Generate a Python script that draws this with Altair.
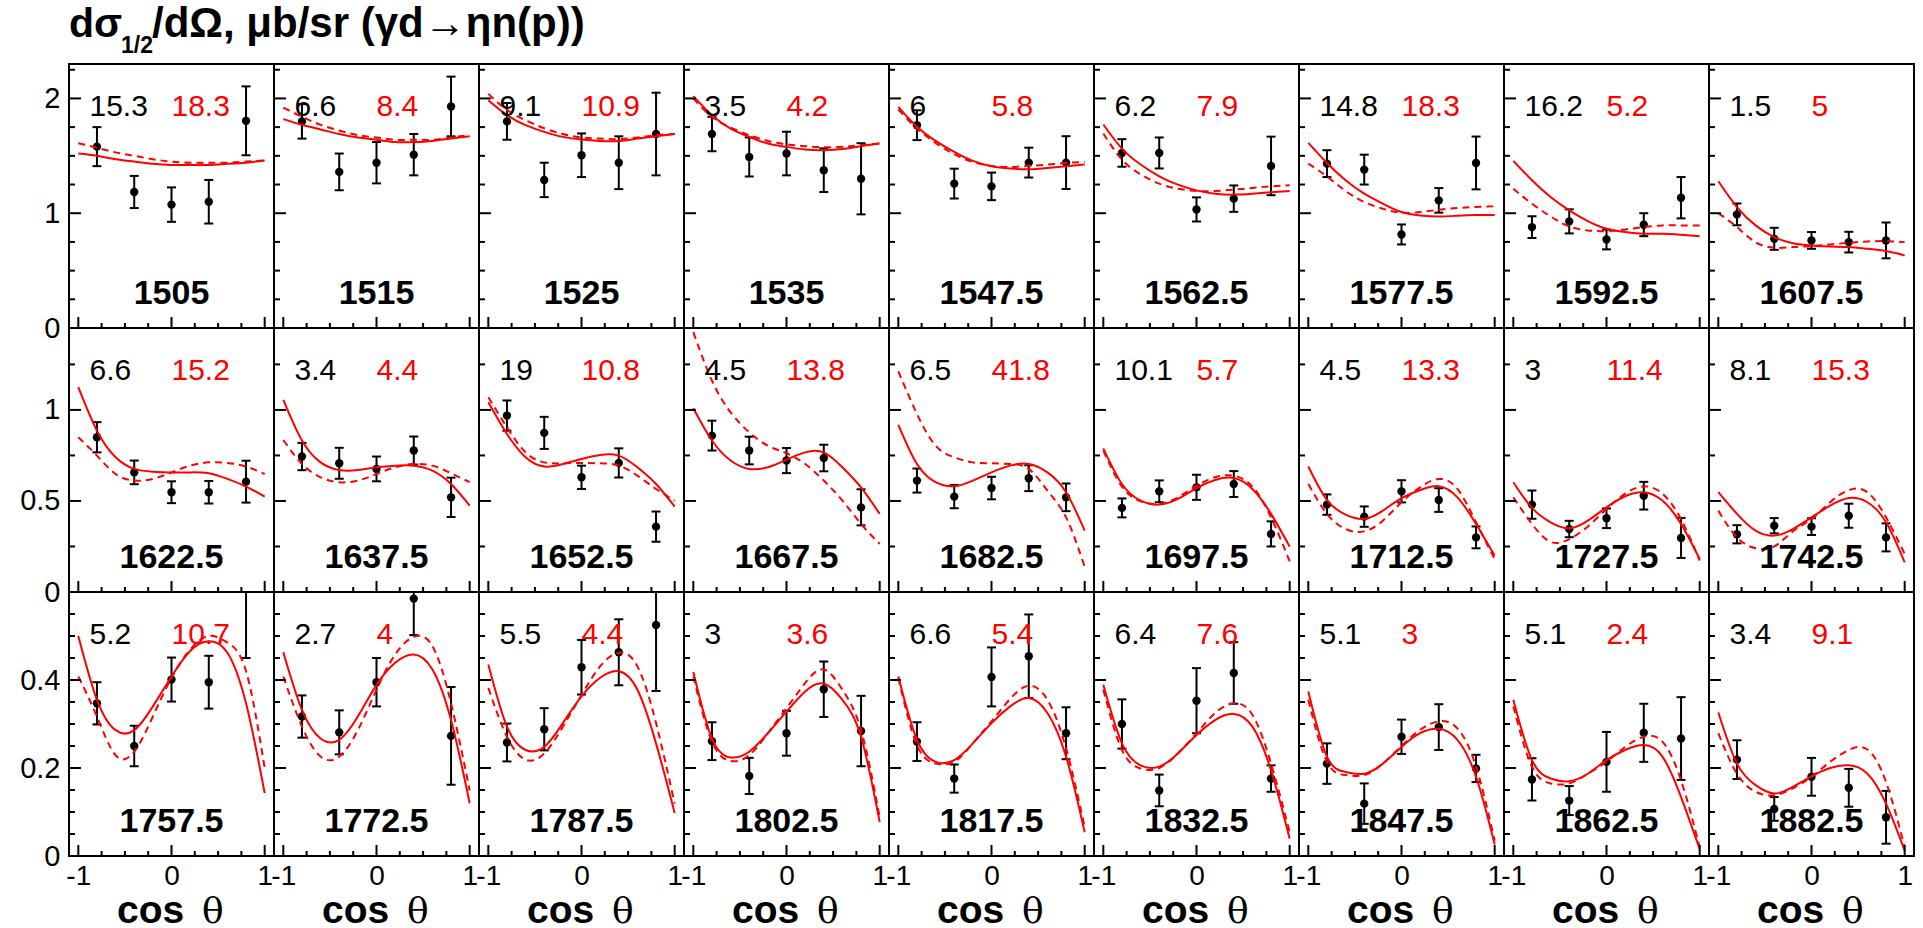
import altair as alt
import pandas as pd

FONT = "Liberation Sans"
SERIF = "DejaVu Serif"
RED = "#ff0000"

ENERGIES = ["1505", "1515", "1525", "1535", "1547.5", "1562.5", "1577.5", "1592.5", "1607.5",
            "1622.5", "1637.5", "1652.5", "1667.5", "1682.5", "1697.5", "1712.5", "1727.5", "1742.5",
            "1757.5", "1772.5", "1787.5", "1802.5", "1817.5", "1832.5", "1847.5", "1862.5", "1882.5"]
CHI_BLACK = ["15.3", "6.6", "9.1", "3.5", "6", "6.2", "14.8", "16.2", "1.5",
             "6.6", "3.4", "19", "4.5", "6.5", "10.1", "4.5", "3", "8.1",
             "5.2", "2.7", "5.5", "3", "6.6", "6.4", "5.1", "5.1", "3.4"]
CHI_RED = ["18.3", "8.4", "10.9", "4.2", "5.8", "7.9", "18.3", "5.2", "5",
           "15.2", "4.4", "10.8", "13.8", "41.8", "5.7", "13.3", "11.4", "15.3",
           "10.7", "4", "4.4", "3.6", "5.4", "7.6", "3", "2.4", "9.1"]

COS_DATA = [-0.8, -0.4, 0.0, 0.4, 0.8]
XS_VAL = [
    [1.58, 1.185, 1.075, 1.10, 1.805],
    [1.80, 1.36, 1.44, 1.51, 1.93],
    [1.80, 1.29, 1.505, 1.44, 1.69],
    [1.69, 1.49, 1.52, 1.375, 1.30],
    [1.767, 1.258, 1.234, 1.441, 1.441],
    [1.525, 1.525, 1.033, 1.127, 1.412],
    [1.432, 1.38, 0.815, 1.112, 1.438],
    [0.879, 0.929, 0.771, 0.90, 1.135],
    [0.99, 0.777, 0.763, 0.748, 0.763],
    [0.85, 0.657, 0.548, 0.548, 0.606],
    [0.744, 0.707, 0.676, 0.777, 0.52],
    [0.969, 0.874, 0.63, 0.709, 0.359],
    [0.859, 0.777, 0.722, 0.736, 0.465],
    [0.612, 0.524, 0.571, 0.625, 0.52],
    [0.462, 0.553, 0.575, 0.593, 0.319],
    [0.48, 0.414, 0.553, 0.505, 0.30],
    [0.48, 0.346, 0.405, 0.529, 0.297],
    [0.317, 0.364, 0.359, 0.419, 0.30],
    [0.347, 0.25, 0.401, 0.395, 0.65],
    [0.317, 0.281, 0.395, 0.585, 0.273],
    [0.258, 0.288, 0.429, 0.463, 0.525],
    [0.261, 0.182, 0.279, 0.379, 0.284],
    [0.26, 0.176, 0.407, 0.454, 0.279],
    [0.30, 0.149, 0.353, 0.416, 0.176],
    [0.21, 0.119, 0.271, 0.293, 0.199],
    [0.174, 0.126, 0.214, 0.28, 0.267],
    [0.219, 0.107, 0.18, 0.155, 0.088],
]
XS_ERR = [
    [0.17, 0.14, 0.15, 0.19, 0.30],
    [0.15, 0.16, 0.18, 0.18, 0.26],
    [0.16, 0.15, 0.19, 0.23, 0.36],
    [0.15, 0.17, 0.19, 0.19, 0.31],
    [0.13, 0.13, 0.12, 0.13, 0.23],
    [0.12, 0.135, 0.105, 0.115, 0.255],
    [0.117, 0.13, 0.087, 0.107, 0.23],
    [0.095, 0.105, 0.086, 0.10, 0.18],
    [0.095, 0.096, 0.073, 0.09, 0.156],
    [0.083, 0.065, 0.06, 0.062, 0.115],
    [0.075, 0.085, 0.068, 0.077, 0.108],
    [0.083, 0.088, 0.064, 0.08, 0.083],
    [0.082, 0.076, 0.069, 0.073, 0.099],
    [0.066, 0.064, 0.062, 0.071, 0.076],
    [0.052, 0.06, 0.069, 0.071, 0.069],
    [0.056, 0.056, 0.061, 0.065, 0.06],
    [0.078, 0.045, 0.054, 0.076, 0.11],
    [0.05, 0.042, 0.046, 0.066, 0.077],
    [0.048, 0.046, 0.05, 0.06, 0.2],
    [0.048, 0.05, 0.055, 0.083, 0.111],
    [0.043, 0.048, 0.062, 0.075, 0.15],
    [0.043, 0.041, 0.051, 0.063, 0.08],
    [0.044, 0.032, 0.067, 0.095, 0.059],
    [0.056, 0.036, 0.074, 0.07, 0.03],
    [0.046, 0.046, 0.039, 0.052, 0.031],
    [0.048, 0.033, 0.068, 0.066, 0.094],
    [0.044, 0.027, 0.043, 0.043, 0.06],
]

COS_CURVE = [-1.0, -0.8, -0.6, -0.4, -0.2, 0.0, 0.2, 0.4, 0.6, 0.8, 1.0]
SOLID = [
    [1.52, 1.50, 1.47, 1.45, 1.43, 1.42, 1.42, 1.42, 1.43, 1.44, 1.46],
    [1.82, 1.77, 1.73, 1.69, 1.66, 1.64, 1.62, 1.62, 1.63, 1.65, 1.67],
    [1.985, 1.855, 1.767, 1.709, 1.665, 1.642, 1.63, 1.63, 1.65, 1.67, 1.69],
    [2.02, 1.854, 1.738, 1.665, 1.607, 1.578, 1.555, 1.549, 1.56, 1.584, 1.607],
    [1.927, 1.753, 1.63, 1.534, 1.456, 1.409, 1.389, 1.383, 1.394, 1.409, 1.424],
    [1.773, 1.563, 1.424, 1.322, 1.249, 1.199, 1.17, 1.162, 1.17, 1.182, 1.194],
    [1.613, 1.438, 1.287, 1.17, 1.083, 1.01, 0.981, 0.972, 0.978, 0.984, 0.984],
    [1.456, 1.287, 1.141, 1.025, 0.932, 0.865, 0.836, 0.821, 0.821, 0.812, 0.80],
    [1.278, 1.054, 0.894, 0.792, 0.739, 0.719, 0.71, 0.705, 0.69, 0.67, 0.632],
    [1.125, 0.886, 0.74, 0.676, 0.661, 0.657, 0.657, 0.652, 0.621, 0.579, 0.524],
    [1.055, 0.832, 0.712, 0.67, 0.67, 0.685, 0.694, 0.694, 0.667, 0.593, 0.474],
    [1.042, 0.868, 0.74, 0.689, 0.703, 0.731, 0.753, 0.749, 0.685, 0.593, 0.469],
    [1.009, 0.832, 0.722, 0.676, 0.685, 0.727, 0.767, 0.767, 0.685, 0.575, 0.429],
    [0.918, 0.703, 0.603, 0.581, 0.612, 0.657, 0.694, 0.703, 0.657, 0.548, 0.337],
    [0.789, 0.593, 0.502, 0.48, 0.511, 0.571, 0.615, 0.626, 0.566, 0.429, 0.249],
    [0.689, 0.505, 0.425, 0.401, 0.447, 0.516, 0.56, 0.581, 0.52, 0.374, 0.20],
    [0.603, 0.462, 0.383, 0.35, 0.392, 0.465, 0.526, 0.548, 0.502, 0.374, 0.181],
    [0.548, 0.429, 0.337, 0.31, 0.346, 0.41, 0.474, 0.516, 0.493, 0.383, 0.163],
    [0.50, 0.355, 0.286, 0.286, 0.34, 0.408, 0.466, 0.488, 0.462, 0.347, 0.143],
    [0.463, 0.332, 0.267, 0.264, 0.317, 0.389, 0.439, 0.458, 0.424, 0.309, 0.12],
    [0.435, 0.294, 0.241, 0.248, 0.302, 0.363, 0.405, 0.42, 0.378, 0.256, 0.098],
    [0.418, 0.267, 0.224, 0.237, 0.279, 0.328, 0.374, 0.392, 0.355, 0.271, 0.077],
    [0.408, 0.264, 0.214, 0.218, 0.256, 0.302, 0.34, 0.359, 0.325, 0.226, 0.054],
    [0.389, 0.256, 0.206, 0.203, 0.233, 0.275, 0.309, 0.323, 0.294, 0.195, 0.039],
    [0.374, 0.226, 0.191, 0.187, 0.21, 0.248, 0.279, 0.289, 0.264, 0.18, 0.026],
    [0.355, 0.218, 0.176, 0.17, 0.187, 0.218, 0.241, 0.252, 0.226, 0.134, 0.016],
    [0.326, 0.21, 0.161, 0.142, 0.157, 0.181, 0.20, 0.206, 0.187, 0.119, 0.012],
]
DASHED = [
    [1.61, 1.57, 1.53, 1.50, 1.47, 1.45, 1.44, 1.44, 1.44, 1.45, 1.46],
    [1.92, 1.84, 1.77, 1.72, 1.68, 1.66, 1.64, 1.64, 1.64, 1.66, 1.68],
    [2.04, 1.90, 1.81, 1.74, 1.69, 1.66, 1.65, 1.645, 1.66, 1.68, 1.69],
    [2.0, 1.84, 1.747, 1.68, 1.63, 1.60, 1.584, 1.575, 1.578, 1.592, 1.607],
    [1.904, 1.738, 1.613, 1.514, 1.447, 1.412, 1.403, 1.412, 1.424, 1.438, 1.447],
    [1.694, 1.467, 1.339, 1.258, 1.214, 1.194, 1.194, 1.205, 1.22, 1.234, 1.243],
    [1.432, 1.32, 1.194, 1.098, 1.039, 1.004, 1.01, 1.03, 1.045, 1.054, 1.06],
    [1.214, 1.083, 0.972, 0.885, 0.85, 0.844, 0.859, 0.879, 0.894, 0.894, 0.894],
    [1.001, 0.879, 0.748, 0.699, 0.705, 0.713, 0.728, 0.742, 0.754, 0.757, 0.748],
    [0.85, 0.749, 0.648, 0.612, 0.621, 0.657, 0.694, 0.712, 0.709, 0.689, 0.648],
    [0.835, 0.703, 0.63, 0.603, 0.612, 0.648, 0.685, 0.703, 0.694, 0.652, 0.603],
    [1.07, 0.905, 0.767, 0.712, 0.707, 0.709, 0.707, 0.694, 0.639, 0.566, 0.502],
    [1.427, 1.161, 0.987, 0.877, 0.804, 0.762, 0.703, 0.612, 0.502, 0.374, 0.264],
    [1.212, 0.978, 0.804, 0.74, 0.712, 0.707, 0.703, 0.676, 0.557, 0.41, 0.139],
    [0.777, 0.579, 0.498, 0.484, 0.52, 0.584, 0.63, 0.639, 0.579, 0.41, 0.168],
    [0.593, 0.429, 0.346, 0.333, 0.392, 0.493, 0.575, 0.621, 0.566, 0.383, 0.181],
    [0.52, 0.374, 0.275, 0.29, 0.36, 0.455, 0.54, 0.58, 0.54, 0.40, 0.172],
    [0.447, 0.30, 0.24, 0.25, 0.333, 0.401, 0.493, 0.56, 0.548, 0.41, 0.209],
    [0.408, 0.317, 0.229, 0.237, 0.317, 0.405, 0.469, 0.50, 0.485, 0.42, 0.20],
    [0.408, 0.294, 0.226, 0.226, 0.286, 0.378, 0.458, 0.498, 0.477, 0.347, 0.149],
    [0.382, 0.271, 0.219, 0.233, 0.294, 0.366, 0.431, 0.462, 0.431, 0.302, 0.119],
    [0.408, 0.26, 0.216, 0.229, 0.279, 0.336, 0.393, 0.424, 0.378, 0.286, 0.088],
    [0.405, 0.252, 0.21, 0.214, 0.256, 0.306, 0.357, 0.387, 0.355, 0.245, 0.066],
    [0.378, 0.241, 0.199, 0.20, 0.233, 0.279, 0.325, 0.347, 0.321, 0.21, 0.054],
    [0.355, 0.214, 0.184, 0.184, 0.21, 0.25, 0.287, 0.306, 0.29, 0.203, 0.035],
    [0.34, 0.203, 0.165, 0.165, 0.187, 0.214, 0.248, 0.271, 0.26, 0.172, 0.02],
    [0.279, 0.187, 0.146, 0.138, 0.154, 0.18, 0.214, 0.241, 0.242, 0.168, 0.02],
]

ROW_YMAX = [2.3, 1.45, 0.6]
ROW_YLABELS = [[0, 1, 2], [0, 0.5, 1], [0, 0.2, 0.4]]
ROW_YMAJOR = [[1, 2], [0.5, 1], [0.2, 0.4]]
ROW_YMINOR = [[0.25, 0.5, 0.75, 1.25, 1.5, 1.75, 2.25],
              [0.25, 0.75, 1.25],
              [0.05, 0.1, 0.15, 0.25, 0.3, 0.35, 0.45, 0.5, 0.55]]
X_MAJOR = [-1, 0, 1]
X_MINOR = [-0.75, -0.5, -0.25, 0.25, 0.5, 0.75]

W, H = 205, 264
LABEL_EXPR = "datum.value < 0 ? '-' + abs(datum.value) : '' + datum.value"


def panel(i):
    r, c = divmod(i, 9)
    xs = alt.Scale(domain=[-1.1, 1.1], nice=False, zero=False)
    ys = alt.Scale(domain=[0, ROW_YMAX[r]], nice=False, zero=False)
    if c == 0:
        yax = alt.Axis(values=ROW_YLABELS[r], ticks=False, domain=False, grid=False, title=None,
                       labelFontSize=29, labelPadding=9, labelFont=FONT, labelColor="black",
                       labelOverlap=False, labelFlush=False, labelExpr=LABEL_EXPR)
    else:
        yax = None
    if r == 2:
        xax = alt.Axis(values=X_MAJOR, ticks=False, domain=False, grid=False, title=None,
                       labelFontSize=28, labelPadding=6, labelFont=FONT, labelColor="black",
                       labelOverlap=False, labelFlush=False, labelExpr=LABEL_EXPR)
    else:
        xax = None

    def X(f):
        return alt.X(f, type="quantitative", scale=xs, axis=xax)

    def Y(f):
        return alt.Y(f, type="quantitative", scale=ys, axis=yax)

    pts = pd.DataFrame({"cos": COS_DATA, "v": XS_VAL[i],
                        "lo": [v - e for v, e in zip(XS_VAL[i], XS_ERR[i])],
                        "hi": [v + e for v, e in zip(XS_VAL[i], XS_ERR[i])]})
    cur = pd.DataFrame({"cos": COS_CURVE, "s": SOLID[i], "d": DASHED[i]})

    base = alt.Chart(pts)
    err = base.mark_rule(color="black", strokeWidth=2, clip=True).encode(x=X("cos"), y=Y("lo"), y2="hi:Q")
    cap_lo = base.mark_tick(orient="horizontal", size=9, thickness=2, color="black", clip=True, opacity=1).encode(x=X("cos"), y=Y("lo"))
    cap_hi = base.mark_tick(orient="horizontal", size=9, thickness=2, color="black", clip=True, opacity=1).encode(x=X("cos"), y=Y("hi"))
    dots = base.mark_circle(size=70, color="black", opacity=1, clip=True).encode(x=X("cos"), y=Y("v"))

    solid = alt.Chart(cur).mark_line(color=RED, strokeWidth=2, interpolate="natural", clip=True).encode(x=X("cos"), y=Y("s"))
    dashed = alt.Chart(cur).mark_line(color=RED, strokeWidth=2, strokeDash=[7, 5], interpolate="natural", clip=True).encode(x=X("cos"), y=Y("d"))

    xmaj = alt.Chart(pd.DataFrame({"t": X_MAJOR})).mark_rule(color="black", strokeWidth=2).encode(
        x=X("t"), y=alt.value(H), y2=alt.value(H - 11))
    xmin = alt.Chart(pd.DataFrame({"t": X_MINOR})).mark_rule(color="black", strokeWidth=2).encode(
        x=X("t"), y=alt.value(H), y2=alt.value(H - 5))
    ymaj = alt.Chart(pd.DataFrame({"t": ROW_YMAJOR[r]})).mark_rule(color="black", strokeWidth=2).encode(
        y=Y("t"), x=alt.value(0), x2=alt.value(12))
    ymin = alt.Chart(pd.DataFrame({"t": ROW_YMINOR[r]})).mark_rule(color="black", strokeWidth=2).encode(
        y=Y("t"), x=alt.value(0), x2=alt.value(6))

    lab = pd.DataFrame({"x": [-0.88, 0.0, 0.0],
                        "t": [CHI_BLACK[i], CHI_RED[i], ENERGIES[i]],
                        "k": ["b", "r", "e"]})
    tb = alt.Chart(lab).transform_filter("datum.k == 'b'").mark_text(
        font=FONT, fontSize=30, color="black", align="left", baseline="middle").encode(
        x=X("x"), y=alt.value(43), text="t:N")
    tr = alt.Chart(lab).transform_filter("datum.k == 'r'").mark_text(
        font=FONT, fontSize=30, color=RED, align="left", baseline="middle").encode(
        x=X("x"), y=alt.value(43), text="t:N")
    te = alt.Chart(lab).transform_filter("datum.k == 'e'").mark_text(
        font=FONT, fontSize=34, fontWeight="bold", color="black", align="center", baseline="middle").encode(
        x=X("x"), y=alt.value(230), text="t:N")

    layers = [dots, err, cap_lo, cap_hi, solid, dashed, xmaj, xmin, ymaj, ymin, tb, tr, te]

    one = pd.DataFrame({"a": [0]})
    if r == 2:
        tcos = alt.Chart(one).mark_text(text="cos", font=FONT, fontSize=39, fontWeight="bold",
                                        align="left", baseline="alphabetic", color="black").encode(
            x=alt.value(48), y=alt.value(H + 67))
        ttheta = alt.Chart(one).mark_text(text="θ", font=SERIF, fontSize=36,
                                          align="left", baseline="alphabetic", color="black").encode(
            x=alt.value(133), y=alt.value(H + 67))
        layers += [tcos, ttheta]

    if i == 0:
        t1 = alt.Chart(one).mark_text(text="dσ", font=FONT, fontSize=41, fontWeight="bold",
                                      align="left", baseline="alphabetic", color="black").encode(
            x=alt.value(0), y=alt.value(-27))
        t2 = alt.Chart(one).mark_text(text="1/2", font=FONT, fontSize=23, fontWeight="bold",
                                      align="left", baseline="alphabetic", color="black").encode(
            x=alt.value(52), y=alt.value(-11))
        t3 = alt.Chart(one).mark_text(text="/dΩ, μb/sr (γd→ηn(p))", font=FONT, fontSize=42,
                                      fontWeight="bold", align="left", baseline="alphabetic",
                                      color="black").encode(x=alt.value(83), y=alt.value(-27))
        layers += [t1, t2, t3]

    return alt.layer(*layers).properties(width=W, height=H)


chart = alt.concat(*[panel(i) for i in range(27)], columns=9, spacing=0, bounds="flush").properties(
    padding={"left": 18, "top": 2, "right": 5, "bottom": 2},
    background="white",
).configure_view(stroke="black", strokeWidth=2)

chart.save("out.html", embed_options={"renderer": "svg", "actions": False})
